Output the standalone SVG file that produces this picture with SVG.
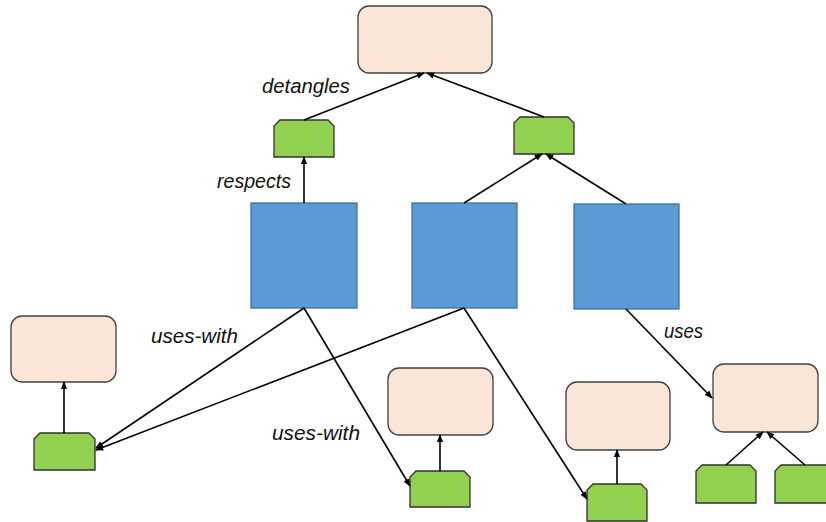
<svg xmlns="http://www.w3.org/2000/svg" width="826" height="522" viewBox="0 0 826 522">
<style>
.pink{fill:#fbe5d6;stroke:#404040;stroke-width:1.3}
.blue{fill:#5b9bd5;stroke:#41719c;stroke-width:1.3}
.green{fill:#92d050;stroke:#303030;stroke-width:1.3}
.conn line{stroke:#000;stroke-width:1.6;marker-end:url(#ah)}
.lbl{font-family:"Liberation Sans",Arial,sans-serif;font-style:italic;font-size:20px;fill:#111}
</style>
<defs>
<marker id="ah" viewBox="0 0 10 10" refX="9" refY="5" markerWidth="5" markerHeight="5" orient="auto" markerUnits="strokeWidth">
<path d="M0,1 L10,5 L0,9 z" fill="#000"/>
</marker>
</defs>
<rect width="826" height="522" fill="#fff"/>
<g id="top"><rect class="pink" x="358" y="6" width="134" height="67" rx="11"/></g>
<g id="g1"><path class="green" d="M274,157 V126 L280,120 H328 L334,126 V157 Z"/></g>
<g id="g2"><path class="green" d="M514,154 V123 L520,117 H568 L574,123 V154 Z"/></g>
<g id="b1"><rect class="blue" x="251" y="203" width="106" height="105"/></g>
<g id="b2"><rect class="blue" x="412" y="203" width="105" height="105"/></g>
<g id="b3"><rect class="blue" x="574" y="204" width="105" height="105"/></g>
<g id="p1"><rect class="pink" x="11" y="316" width="105" height="66" rx="11"/></g>
<g id="gl"><path class="green" d="M34,470 V439 L40,433 H89 L95,439 V470 Z"/></g>
<g id="p2"><rect class="pink" x="388" y="368" width="105" height="67" rx="11"/></g>
<g id="gm"><path class="green" d="M410,507 V477 L416,471 H464 L470,477 V507 Z"/></g>
<g id="p3"><rect class="pink" x="566" y="382" width="104" height="68" rx="11"/></g>
<g id="g3"><path class="green" d="M587,521 V490 L593,484 H641 L647,490 V521 Z"/></g>
<g id="p4"><rect class="pink" x="713" y="364" width="105" height="68" rx="11"/></g>
<g id="gr1"><path class="green" d="M696,503 V471 L702,465 H750 L756,471 V503 Z"/></g>
<g id="gr2"><path class="green" d="M775,503 V471 L781,465 H829 L835,471 V503 Z"/></g>
<g class="conn" id="connectors">
<line x1="304" y1="120" x2="424" y2="73"/>
<line x1="544" y1="117" x2="427" y2="73"/>
<line x1="304" y1="203" x2="304" y2="157"/>
<line x1="464" y1="203" x2="542" y2="154"/>
<line x1="626" y1="204" x2="546" y2="154"/>
<line x1="304" y1="308" x2="96" y2="448"/>
<line x1="464" y1="308" x2="96" y2="450"/>
<line x1="304" y1="308" x2="410" y2="486"/>
<line x1="464" y1="308" x2="587" y2="499"/>
<line x1="626" y1="309" x2="712" y2="398"/>
<line x1="64" y1="433" x2="64" y2="382"/>
<line x1="440" y1="471" x2="440" y2="435"/>
<line x1="617" y1="484" x2="617" y2="450"/>
<line x1="726" y1="465" x2="763" y2="432"/>
<line x1="805" y1="465" x2="767" y2="432"/>
</g>
<g id="labels">
<text class="lbl" x="262" y="93" textLength="88" lengthAdjust="spacingAndGlyphs">detangles</text>
<text class="lbl" x="217" y="188" textLength="74" lengthAdjust="spacingAndGlyphs">respects</text>
<text class="lbl" x="151" y="343" textLength="87" lengthAdjust="spacingAndGlyphs">uses-with</text>
<text class="lbl" x="272" y="440" textLength="88" lengthAdjust="spacingAndGlyphs">uses-with</text>
<text class="lbl" x="664" y="338" textLength="39" lengthAdjust="spacingAndGlyphs">uses</text>
</g>
</svg>
